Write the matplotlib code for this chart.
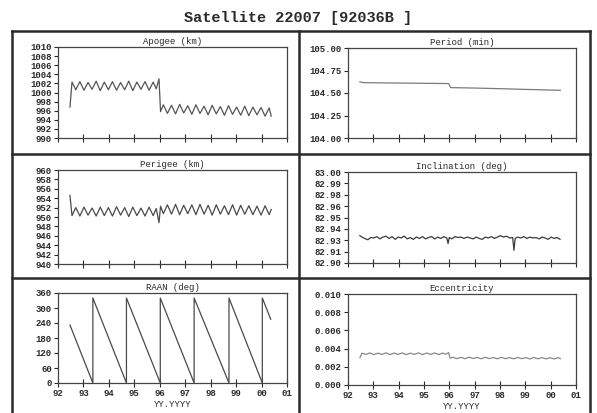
import matplotlib
matplotlib.use("Agg")
import matplotlib.pyplot as plt
from matplotlib.lines import Line2D

# ---- data ----
title = "Satellite 22007 [92036B ]"

epoch = [92.47, 92.55, 92.70, 92.86, 93.02, 93.18, 93.34, 93.50, 93.66, 93.82,
         93.98, 94.14, 94.30, 94.46, 94.62, 94.78, 94.94, 95.10, 95.26, 95.42,
         95.58, 95.74, 95.86, 95.97, 96.03, 96.14, 96.30, 96.46, 96.62, 96.78,
         96.94, 97.10, 97.26, 97.42, 97.58, 97.74, 97.90, 98.06, 98.22, 98.38,
         98.54, 98.70, 98.86, 99.02, 99.18, 99.34, 99.50, 99.66, 99.82, 99.98,
         100.14, 100.30, 100.38]

apogee = [996.8, 1002.3, 1000.6, 1002.4, 1000.5, 1002.2, 1000.7, 1002.5, 1000.4, 1002.3,
          1000.6, 1002.4, 1000.5, 1002.2, 1000.6, 1002.5, 1000.4, 1002.3, 1000.7, 1002.4,
          1000.5, 1002.3, 1000.8, 1003.0, 995.8, 997.3, 995.4, 997.2, 995.3, 997.4,
          995.5, 997.1, 995.2, 997.3, 995.4, 997.0, 995.1, 997.2, 995.3, 996.9,
          995.0, 997.1, 995.2, 996.8, 995.0, 997.0, 994.9, 996.8, 995.1, 996.7,
          994.8, 996.6, 994.8]

perigee = [954.6, 950.3, 952.0, 950.2, 952.1, 950.4, 951.9, 950.2, 952.1, 950.3,
           952.0, 950.2, 952.2, 950.4, 952.0, 950.1, 952.1, 950.3, 951.9, 950.2,
           952.1, 950.3, 951.8, 948.8, 952.3, 950.7, 952.6, 950.6, 952.7, 950.5,
           952.5, 950.7, 952.6, 950.5, 952.7, 950.6, 952.5, 950.4, 952.6, 950.6,
           952.4, 950.5, 952.6, 950.4, 952.5, 950.6, 952.4, 950.5, 952.3, 950.4,
           952.4, 950.5, 951.6]

eccentricity = [0.00300, 0.00350, 0.00336, 0.00352, 0.00334, 0.00350, 0.00337, 0.00353, 0.00334, 0.00351,
                0.00336, 0.00352, 0.00334, 0.00350, 0.00336, 0.00353, 0.00334, 0.00351, 0.00337, 0.00352,
                0.00335, 0.00351, 0.00338, 0.00356, 0.00295, 0.00305, 0.00290, 0.00304, 0.00289, 0.00306,
                0.00291, 0.00303, 0.00288, 0.00305, 0.00290, 0.00302, 0.00288, 0.00304, 0.00289, 0.00302,
                0.00287, 0.00303, 0.00289, 0.00301, 0.00286, 0.00303, 0.00288, 0.00301, 0.00287, 0.00300,
                0.00286, 0.00301, 0.00288]

period_years = [92.47, 92.60, 93.50, 95.00, 95.97, 96.05, 97.00, 98.00, 99.00, 100.38]
period_min = [104.625, 104.615, 104.612, 104.608, 104.605, 104.560, 104.555, 104.548, 104.540, 104.530]

inc_years = [92.47, 92.55, 92.66, 92.78, 92.90, 93.02, 93.14, 93.26, 93.38, 93.50,
             93.62, 93.74, 93.86, 93.98, 94.10, 94.22, 94.34, 94.46, 94.58, 94.70,
             94.82, 94.94, 95.06, 95.18, 95.30, 95.42, 95.54, 95.66, 95.78, 95.90,
             95.95, 96.00, 96.10, 96.22, 96.34, 96.46, 96.58, 96.70, 96.82, 96.94,
             97.06, 97.18, 97.30, 97.42, 97.54, 97.66, 97.78, 97.90, 98.02, 98.14,
             98.26, 98.38, 98.50, 98.55, 98.60, 98.70, 98.82, 98.94, 99.06, 99.18,
             99.30, 99.42, 99.54, 99.66, 99.78, 99.90, 100.02, 100.14, 100.26, 100.37]
inclination = [82.9300, 82.9285, 82.9270, 82.9255, 82.9280, 82.9275, 82.9290, 82.9265, 82.9285, 82.9295,
               82.9270, 82.9290, 82.9260, 82.9285, 82.9275, 82.9295, 82.9265, 82.9280, 82.9260, 82.9285,
               82.9270, 82.9290, 82.9265, 82.9280, 82.9290, 82.9265, 82.9285, 82.9270, 82.9290, 82.9275,
               82.9215, 82.9280, 82.9265, 82.9290, 82.9280, 82.9285, 82.9270, 82.9285, 82.9275, 82.9265,
               82.9285, 82.9270, 82.9260, 82.9285, 82.9275, 82.9290, 82.9270, 82.9285, 82.9300, 82.9285,
               82.9295, 82.9275, 82.9280, 82.9140, 82.9270, 82.9285, 82.9275, 82.9290, 82.9270, 82.9285,
               82.9275, 82.9280, 82.9265, 82.9285, 82.9275, 82.9260, 82.9285, 82.9270, 82.9280, 82.9260]

raan_years = [92.47, 93.37, 93.37, 94.69, 94.69, 96.02, 96.02, 97.35, 97.35,
              98.72, 98.72, 100.03, 100.03, 100.36]
raan = [232, 0, 340, 0, 340, 0, 340, 0, 340, 0, 340, 0, 340, 255]

year_ticks = [92, 93, 94, 95, 96, 97, 98, 99, 100, 101]
year_labels = ["92", "93", "94", "95", "96", "97", "98", "99", "00", "01"]

apogee_ticks = [990, 992, 994, 996, 998, 1000, 1002, 1004, 1006, 1008, 1010]
perigee_ticks = [940, 942, 944, 946, 948, 950, 952, 954, 956, 958, 960]
period_ticks = [104.00, 104.25, 104.50, 104.75, 105.00]
period_labels = ["104.00", "104.25", "104.50", "104.75", "105.00"]
inc_ticks = [82.9, 82.9125, 82.925, 82.9375, 82.95, 82.9625, 82.975, 82.9875, 83.0]
inc_labels = ["82.90", "82.91", "82.93", "82.94", "82.95", "82.96", "82.98", "82.99", "83.00"]
raan_ticks = [0, 60, 120, 180, 240, 300, 360]
ecc_ticks = [0.000, 0.002, 0.004, 0.006, 0.008, 0.010]
ecc_labels = ["0.000", "0.002", "0.004", "0.006", "0.008", "0.010"]

# ---- figure ----
plt.rcParams["font.family"] = ["Liberation Mono", "DejaVu Sans Mono"]
plt.rcParams["font.weight"] = "bold"
W, H = 597, 413
fig = plt.figure(figsize=(W / 100, H / 100), dpi=100)
ink = "#2a2a2a"


def px_axes(l, t, r, b):
    return fig.add_axes([l / W, 1 - b / H, (r - l) / W, (b - t) / H])


def fline(x0, y0, x1, y1, lw=1.8):
    fig.add_artist(Line2D([x0 / W, x1 / W], [1 - y0 / H, 1 - y1 / H],
                          color=ink, lw=lw, transform=fig.transFigure))


fig.text(0.5, 1 - 18 / H, title, ha="center", va="center",
         fontsize=11, fontweight="bold", color=ink)

# outer frame and dividers (bottom edge runs off the scan)
fline(12, 31, 590, 31)
fline(12, 31, 12, 413)
fline(590, 31, 590, 413)
fline(299, 31, 299, 413)
fline(12, 154, 590, 154)
fline(12, 278, 590, 278)


def style(ax, name, yticks, ylabels, bottom=False):
    ax.set_xlim(92, 101)
    ax.set_xticks(year_ticks)
    ax.set_ylim(yticks[0], yticks[-1])
    ax.set_yticks(yticks)
    ax.set_yticklabels(ylabels)
    if bottom:
        ax.set_xticklabels(year_labels)
        ax.set_xlabel("YY.YYYY", fontsize=6.5, labelpad=1.5, color=ink)
    else:
        ax.set_xticklabels([])
    ax.tick_params(axis="y", direction="out", length=3, width=0.8,
                   labelsize=6.5, pad=1.5, colors=ink)
    ax.tick_params(axis="x", direction="inout", length=6, width=0.8,
                   labelsize=6.5, pad=1.5, colors=ink)
    for s in ax.spines.values():
        s.set_linewidth(0.9)
        s.set_color("#444444")
    ax.set_title(name, fontsize=6.5, pad=2.5, color=ink)


ax = px_axes(58, 47, 287, 138)
ax.plot(epoch, apogee, color="#555555", lw=0.9)
style(ax, "Apogee (km)", apogee_ticks, [str(v) for v in apogee_ticks])

ax = px_axes(348, 48, 576, 138)
ax.plot(period_years, period_min, color="#7a7a7a", lw=0.9)
style(ax, "Period (min)", period_ticks, period_labels)

ax = px_axes(58, 170, 287, 264)
ax.plot(epoch, perigee, color="#4a4a4a", lw=0.9)
style(ax, "Perigee (km)", perigee_ticks, [str(v) for v in perigee_ticks])

ax = px_axes(348, 172, 576, 263)
ax.plot(inc_years, inclination, color="#3a3a3a", lw=0.9)
style(ax, "Inclination (deg)", inc_ticks, inc_labels)

ax = px_axes(58, 293, 287, 383)
ax.plot(raan_years, raan, color="#4a4a4a", lw=0.9)
style(ax, "RAAN (deg)", raan_ticks, [str(v) for v in raan_ticks], bottom=True)

ax = px_axes(348, 294, 576, 385)
ax.plot(epoch, eccentricity, color="#888888", lw=0.9)
style(ax, "Eccentricity", ecc_ticks, ecc_labels, bottom=True)

fig.savefig("out.png", dpi=100)
